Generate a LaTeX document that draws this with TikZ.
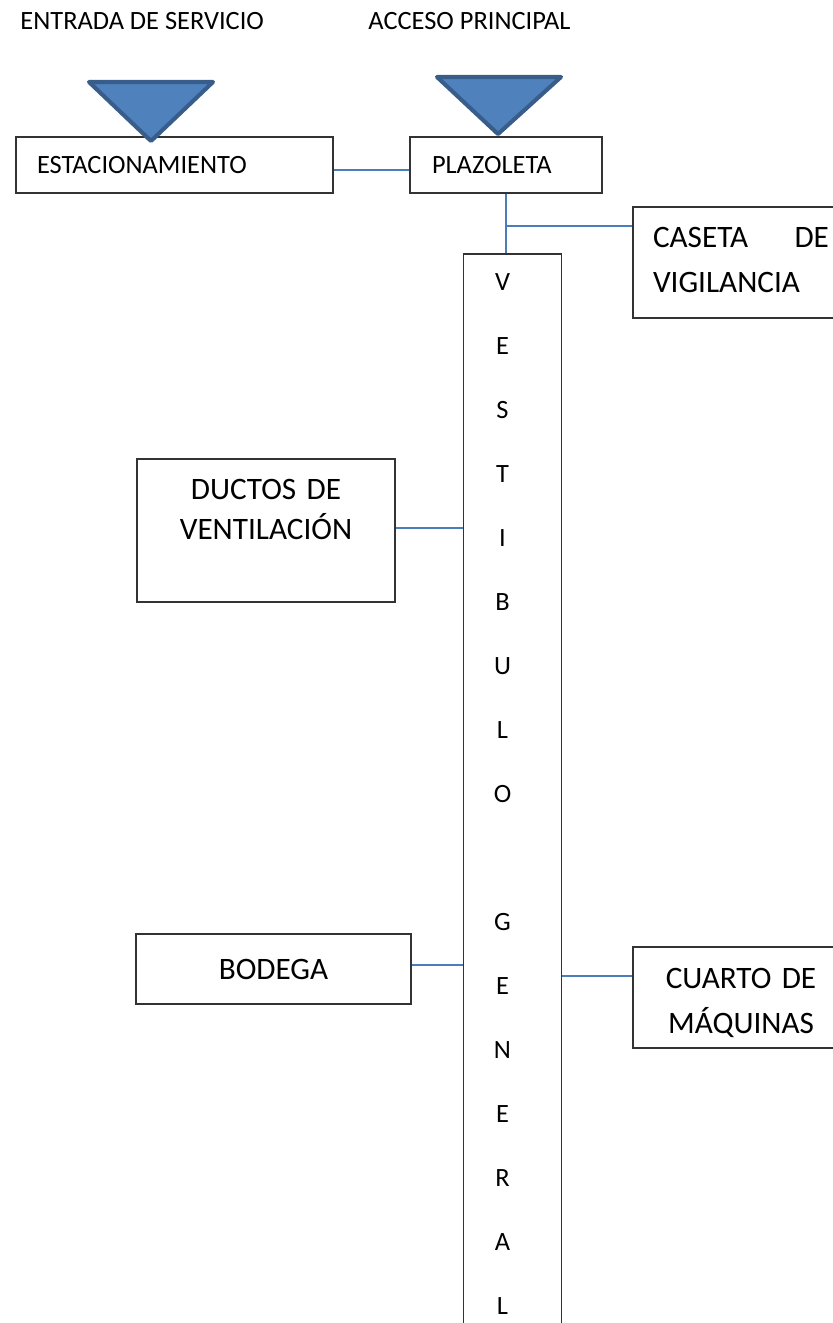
\documentclass[tikz,border=0pt]{standalone}
\usepackage{fontspec}
\setmainfont{Carlito}
\definecolor{tribody}{HTML}{4F81BD}
\definecolor{triedge}{HTML}{385D8A}
\definecolor{wireblue}{HTML}{4A7EBB}
\begin{document}
\begin{tikzpicture}[x=0.41667pt, y=-0.41667pt,
    room/.style={draw=black!80, line width=0.55pt, rectangle, inner ysep=0pt},
    smalltxt/.style={font=\fontsize{11}{13}\selectfont},
    bigtxt/.style={font=\fontsize{13}{18.5}\selectfont},
    wire/.style={draw=wireblue, line width=0.65pt},
    entry/.style={fill=tribody, draw=triedge, line width=1.7pt, line join=round}]
    \useasboundingbox (0,0) rectangle (833,1323);
    \clip (0,0) rectangle (833,1323);

    % Entrances
    \node [smalltxt, anchor=base west, inner sep=0pt] (svc) at (20,29)
          {ENTRADA DE SERVICIO};
    \node [smalltxt, anchor=base west, inner sep=0pt] (acc) at (368,29)
          {ACCESO PRINCIPAL};

    % Top row
    \node [room, smalltxt, minimum height=23.33pt, text width=114.58pt,
           inner xsep=8.75pt, align=left] (estac) at (174.5,165) {ESTACIONAMIENTO};
    \node [room, smalltxt, minimum height=23.33pt, text width=61.67pt,
           inner xsep=9.17pt, align=left] (plaz) at (506,165) {PLAZOLETA};

    % Guard house
    \node [room, bigtxt, minimum height=46.25pt, text width=73.33pt,
           inner xsep=8.33pt, align=left, text height=8.2pt, text depth=20.3pt]
          (caseta) at (741,262.5) {\makebox[\linewidth]{CASETA\hfill DE}\\VIGILANCIA};

    % Hall
    \node [room, minimum width=40.83pt, minimum height=458.33pt] (vest) at (512.5,804) {};
    \node [font=\fontsize{11}{26.67}\selectfont, text width=30pt, align=center,
           anchor=base, inner sep=0pt] (vlet) at (502.5,290)
          {V\\E\\S\\T\\I\\B\\U\\L\\O\\\mbox{}\\G\\E\\N\\E\\R\\A\\L};

    % Side rooms
    \node [room, font=\fontsize{13}{16.67}\selectfont, minimum width=107.5pt,
           minimum height=59.58pt, text width=90pt, align=center,
           text height=8.2pt, text depth=34.45pt]
          (ductos) at (266,530.5) {DUCTOS DE\\VENTILACIÓN};
    \node [room, bigtxt, minimum width=114.58pt, minimum height=29.17pt,
           text width=90pt, align=center] (bodega) at (273.5,969) {BODEGA};
    \node [room, font=\fontsize{13}{18.75}\selectfont, minimum width=90pt,
           minimum height=42.08pt, text width=80pt, align=center,
           text height=8.2pt, text depth=16.12pt]
          (cuarto) at (741,997.5) {CUARTO DE\\MÁQUINAS};

    % Connections
    \coordinate (tee) at (506,226);
    \coordinate (mq) at (0,976);
    \draw [wire] ([yshift=-2.08pt]estac.east) -- ([yshift=-2.08pt]plaz.west);
    \draw [wire] (plaz.south) -- (plaz.south |- vest.north);
    \draw [wire] (tee) -- (tee -| caseta.west);
    \draw [wire] ([yshift=1.04pt]ductos.east) -- ([yshift=1.04pt]ductos.east -| vest.west);
    \draw [wire] ([yshift=1.67pt]bodega.east) -- ([yshift=1.67pt]bodega.east -| vest.west);
    \draw [wire] (vest.east |- mq) -- (cuarto.west |- mq);

    % Entry markers
    \draw [entry] (89,82) -- (213,82) -- (151,141) -- cycle;
    \draw [entry] (437,77) -- (561,77) -- (498,134) -- cycle;

\end{tikzpicture}
\end{document}
